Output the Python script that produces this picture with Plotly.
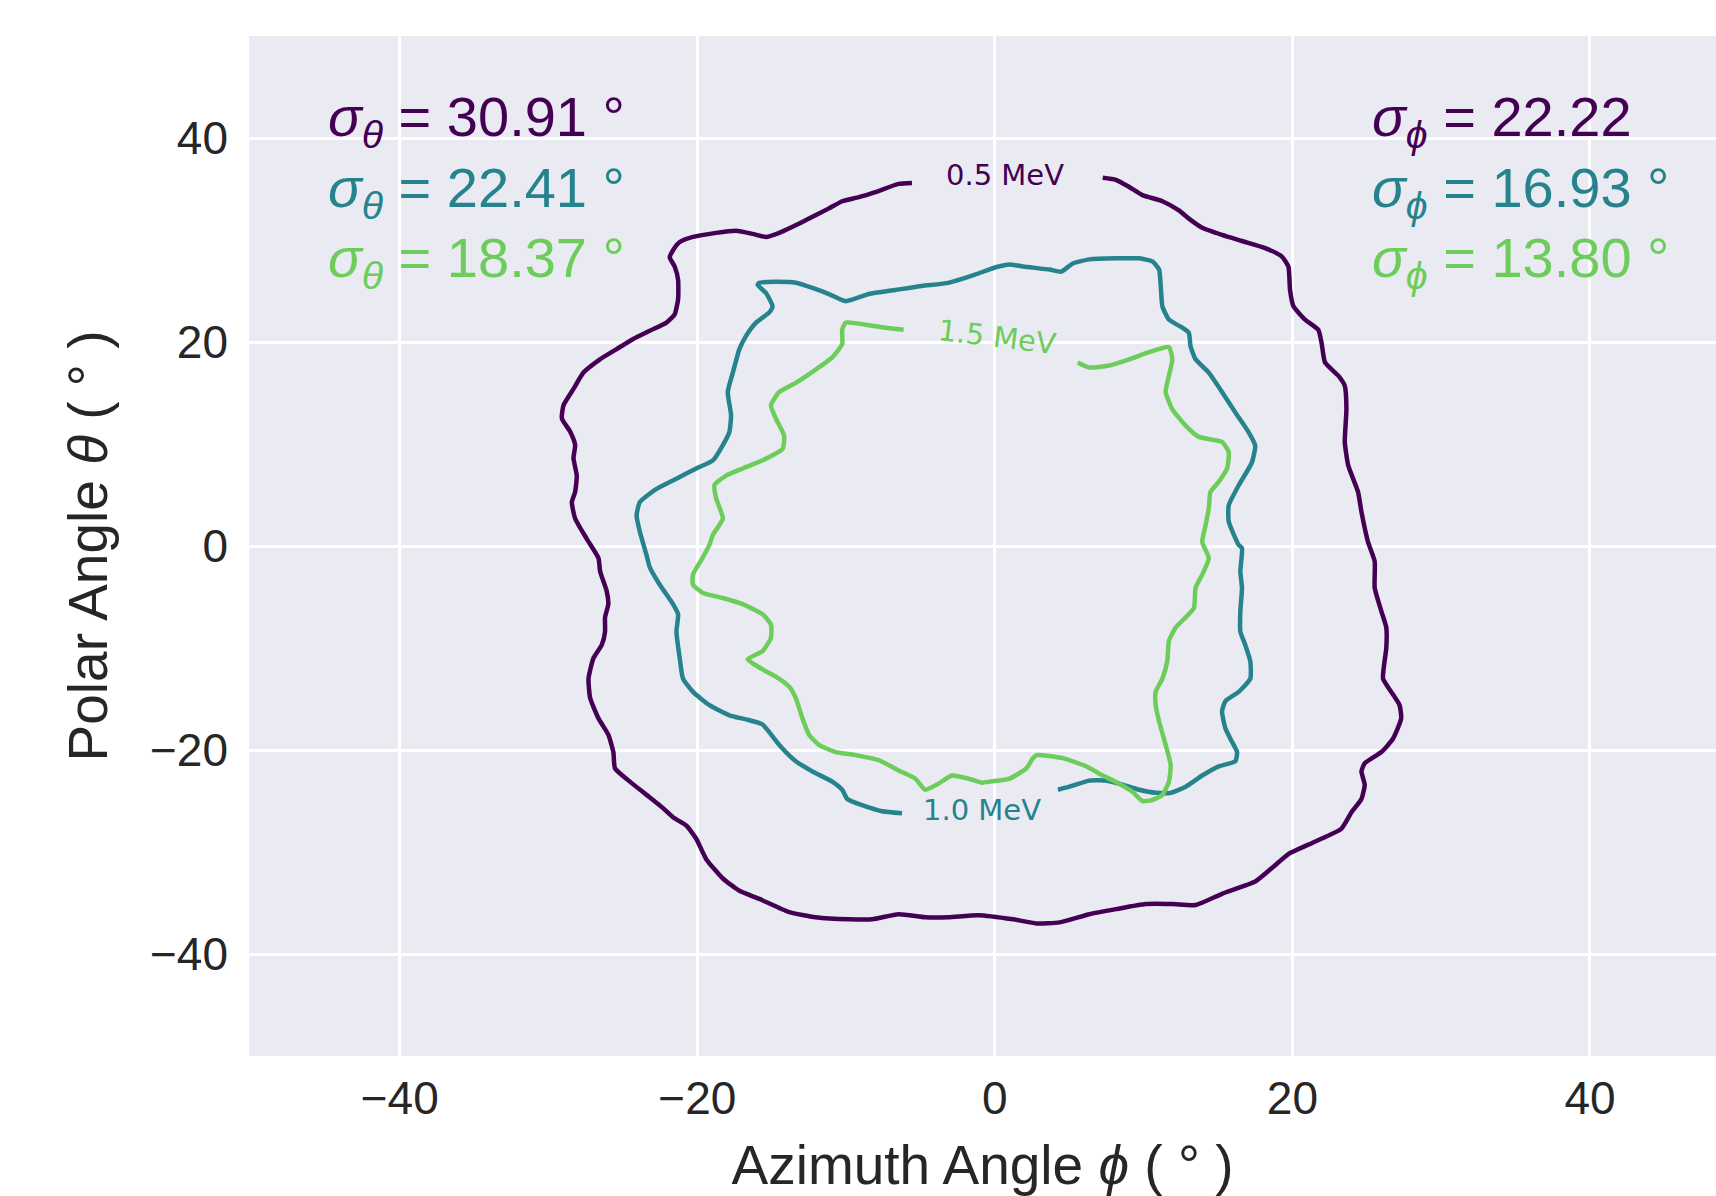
import plotly.graph_objects as go

# ---------------- data ----------------
energies = ["0.5 MeV", "1.0 MeV", "1.5 MeV"]
colors = ["#440154", "#26838e", "#6ccd5a"]

sigma_theta = [30.91, 22.41, 18.37]
sigma_phi = [22.22, 16.93, 13.80]
sigma_phi_unit = ["", " °", " °"]

xticks = [-40, -20, 0, 20, 40]
yticks = [-40, -20, 0, 20, 40]

# 0.5 MeV contour (gap at the top for the inline label)
phi_05 = [-5.57, -6.47, -8.03, -9.14, -10.26, -11.15, -12.49, -13.6, -14.49, -15.38,
          -16.28, -17.39, -18.73, -20.29, -21.18, -21.63, -21.85, -21.52, -21.29, -21.29,
          -21.52, -22.07, -23.19, -24.31, -25.42, -26.54, -27.65, -28.32, -28.99, -29.10,
          -28.54, -28.21, -28.32, -28.1, -28.21, -28.43, -28.21, -27.43, -26.64,
          -26.53, -26.09, -25.98, -26.2, -26.2, -26.42, -26.98, -27.31, -27.2, -26.64,
          -25.98, -25.64, -25.53, -24.53, -23.41, -22.3, -21.63, -20.74, -20.07, -19.4,
          -18.28, -17.17, -15.83, -13.82, -12.04, -9.81, -8.25, -6.47, -4.68, -3.12, -1.11,
          1.23, 2.79, 4.35, 6.35, 8.14, 10.14, 11.93, 13.49, 15.27, 17.5,
          18.6, 19.73, 21.5, 23.3, 23.97, 24.64, 24.86, 24.64, 24.86, 25.98,
          26.76, 27.31, 27.2, 26.64, 26.09, 26.31, 26.31, 25.98, 25.53, 25.53,
          25.08, 24.64, 24.41, 23.75, 23.52, 23.63, 23.52, 23.08, 22.19, 21.96,
          21.74, 20.85, 20.07, 19.84, 19.73, 19.28, 18.17, 16.6, 15.27, 13.94,
          13.04, 12.37, 11.26, 9.92, 9.03, 8.14, 7.25]
theta_05 = [35.6, 35.5, 34.7, 34.2, 33.8, 33.1, 32.1, 31.3, 30.7, 30.3,
            30.6, 30.9, 30.7, 30.3, 29.8, 29.0, 28.3, 27.4, 26.1, 24.2,
            22.7, 21.9, 21.1, 20.3, 19.3, 18.3, 17.0, 15.4, 13.8, 12.5,
            11.2, 9.9, 8.6, 6.9, 5.3, 4.3, 2.7, 0.7, -1.2,
            -2.5, -4.4, -5.7, -7.0, -8.4, -9.7, -11.0, -13.0, -14.9, -16.9,
            -18.5, -20.2, -21.8, -23.1, -24.4, -25.7, -26.6, -27.4, -28.7, -30.7,
            -32.6, -33.8, -34.6, -35.9, -36.4, -36.6, -36.6, -36.1, -36.4, -36.4, -36.2,
            -36.6, -37.0, -36.9, -36.1, -35.6, -35.1, -35.1, -35.2, -34.1, -32.9,
            -31.6, -30.2, -29.0, -27.7, -26.1, -24.8, -23.4, -22.1, -21.3, -20.2,
            -18.9, -16.9, -15.6, -14.3, -13.0, -10.0, -8.0, -6.4, -4.1, -1.5,
            0.4, 3.35, 5.3, 7.9, 10.2, 13.4, 15.7, 16.7, 18.0, 19.9,
            21.2, 22.2, 23.5, 25.1, 27.4, 28.4, 29.2, 29.9, 30.5, 31.2,
            32.1, 32.9, 33.8, 34.4, 35.2, 35.9, 36.1]

# 1.0 MeV contour (gap at the bottom)
phi_10 = [4.24, 5.24, 6.35, 7.47, 8.58, 9.7, 10.81, 11.82, 12.82, 13.94,
          15.05, 16.16, 16.28, 15.94, 15.5, 15.27, 15.5, 16.39, 17.17, 17.17,
          16.83, 16.5, 16.5, 16.61, 16.5, 16.61,
          16.39, 15.72, 15.72, 16.39, 17.28, 17.5, 17.06, 16.16, 15.27, 14.38,
          13.49, 13.15, 13.04, 12.6, 11.7, 11.26, 11.15, 11.04, 10.59, 9.7,
          8.14, 6.35, 5.24, 4.46, 3.68, 1.9, 1.0, 0.11,
          -1.34, -3.12, -4.91, -6.69, -8.47, -10.03, -11.15, -12.26, -13.38, -14.72,
          -15.83, -15.94, -15.38, -14.94, -15.16, -16.05, -16.72, -17.17, -17.61, -17.95,
          -17.73, -17.84, -18.28, -18.95, -20.07, -21.4, -22.74, -23.86, -24.08, -23.86,
          -23.41,
          -23.19, -22.52, -21.63, -21.29, -21.4, -21.18, -20.96, -20.29, -19.18, -17.84,
          -16.72, -15.61, -14.49, -13.38, -12.26, -10.93, -10.26, -9.92, -8.92, -7.58,
          -6.24]
theta_10 = [-23.9, -23.5, -23.0, -23.0, -23.4, -23.9, -24.2, -24.2, -23.6, -22.5,
            -21.6, -21.1, -20.2, -19.2, -17.9, -16.2, -15.2, -14.3, -13.0, -11.3,
            -9.7, -8.4, -6.4, -4.1, -2.5, -0.2,
            0.1, 2.4, 4.0, 5.95, 8.2, 9.85, 11.15, 13.1, 15.1, 17.0,
            18.3, 19.6, 20.9, 21.4, 22.2, 23.5, 25.5, 27.1, 27.9, 28.2,
            28.2, 28.1, 27.7, 26.9, 27.1, 27.4, 27.6, 27.35,
            26.6, 25.8, 25.5, 25.1, 24.7, 24.0, 24.7, 25.3, 25.8, 25.9,
            25.8, 25.6, 24.8, 23.5, 22.9, 21.9, 20.6, 19.3, 17.0, 15.1,
            12.8, 11.2, 9.9, 8.4, 7.6, 6.6, 5.6, 4.3, 3.0, 1.4,
            -0.9,
            -2.1, -3.8, -5.7, -6.7, -8.4, -11.0, -13.0, -14.3, -15.6, -16.6,
            -17.0, -17.5, -19.5, -21.1, -22.1, -23.1, -23.9, -24.8, -25.4, -26.0,
            -26.2]

# 1.5 MeV contour (gap at the top)
phi_15 = [5.57, 6.35, 7.69, 9.03, 10.37, 11.7, 11.93, 11.7, 11.48, 11.93,
          12.82, 13.71, 15.27, 15.72, 15.61, 15.05, 14.49, 14.38, 14.16, 13.94,
          14.38,
          13.94, 13.49, 13.38, 12.82, 12.15, 11.7, 11.59, 11.26, 10.81, 10.81,
          11.04, 11.48, 11.82, 11.7, 11.26, 10.59, 9.92, 9.25, 8.36, 7.25,
          6.13, 4.57, 2.79, 2.56, 2.12, 1.0, -0.33,
          -0.89, -1.78, -2.9, -3.79, -4.68, -5.35, -6.47, -7.8, -9.36, -10.7,
          -11.82, -12.49, -12.93, -13.38, -13.82, -14.72, -15.61, -16.61, -15.61, -15.05,
          -15.05, -15.61, -16.95, -18.28, -19.62, -20.29, -20.29, -19.62, -19.17,
          -18.95, -18.28, -18.73, -18.84, -18.06, -16.95, -15.61, -14.27, -14.16, -14.72,
          -15.05, -14.49, -13.38, -12.04, -10.93, -10.26, -10.26, -10.03, -8.7, -7.36,
          -6.13]
theta_15 = [18.0, 17.5, 17.7, 18.3, 19.0, 19.5, 18.3, 16.7, 15.1, 13.4,
            11.8, 10.7, 10.2, 9.2, 7.6, 6.3, 5.3, 3.7, 2.0, 0.4,
            -1.2,
            -2.8, -4.1, -6.1, -7.0, -8.0, -9.3, -11.3, -13.0, -14.3, -15.6,
            -17.2, -19.5, -21.5, -23.1, -24.4, -24.9, -25.0, -24.1, -23.3, -22.5,
            -21.6, -20.8, -20.5, -20.8, -21.8, -22.8, -23.1,
            -23.2, -22.8, -22.5, -23.3, -23.9, -22.8, -22.0, -21.0, -20.5, -20.2,
            -19.5, -18.5, -16.9, -14.9, -13.8, -12.8, -12.1, -11.1, -10.3, -9.0,
            -7.7, -6.7, -5.7, -5.1, -4.6, -3.8, -2.8, -1.1, 0.16,
            1.1, 2.7, 4.65, 6.0, 6.9, 7.6, 8.4, 9.5, 10.8, 12.5,
            13.8, 15.1, 16.0, 17.3, 18.5, 19.8, 21.2, 21.9, 21.7, 21.4,
            21.2]

# inline contour label positions (data coords) and rotation
label_phi = [0.67, -0.88, 0.15]
label_theta = [36.4, -25.9, 20.5]
label_angle = [0, 0, 7]

# ---------------- figure ----------------
FONT = "Liberation Sans, Arial, sans-serif"
LABEL_FONT = "DejaVu Sans, sans-serif"
TXT = "#262626"

fig = go.Figure()
for phi, theta, c in [(phi_05, theta_05, colors[0]),
                      (phi_10, theta_10, colors[1]),
                      (phi_15, theta_15, colors[2])]:
    n = min(len(phi), len(theta))
    fig.add_trace(go.Scatter(x=phi[:n], y=theta[:n], mode="lines",
                             line=dict(color=c, width=4.5, shape="spline", smoothing=0.5),
                             hoverinfo="skip", showlegend=False))

annotations = []
for i in range(3):
    annotations.append(dict(
        x=label_phi[i], y=label_theta[i], xref="x", yref="y",
        text=energies[i], showarrow=False, textangle=label_angle[i],
        font=dict(family=LABEL_FONT, size=29, color=colors[i]),
        xanchor="center", yanchor="middle"))

row_y = [41.7, 34.8, 27.9]
for i in range(3):
    annotations.append(dict(
        x=-44.95, y=row_y[i], xref="x", yref="y",
        text=f"<i>σ</i><sub><i>θ</i></sub> = {sigma_theta[i]:.2f} °",
        showarrow=False, xanchor="left", yanchor="middle",
        font=dict(family=FONT, size=56, color=colors[i])))
    annotations.append(dict(
        x=25.22, y=row_y[i], xref="x", yref="y",
        text=f"<i>σ</i><sub><i>ϕ</i></sub> = {sigma_phi[i]:.2f}{sigma_phi_unit[i]}",
        showarrow=False, xanchor="left", yanchor="middle",
        font=dict(family=FONT, size=56, color=colors[i])))

fig.update_layout(
    width=1716, height=1196,
    margin=dict(l=249, r=0, t=36, b=140, pad=0),
    paper_bgcolor="white", plot_bgcolor="#EAEAF2",
    font=dict(family=FONT, color=TXT),
    annotations=annotations,
    xaxis=dict(range=[-50.13, 48.47], tickvals=xticks, showgrid=True,
               gridcolor="white", gridwidth=2.5, zeroline=False, showline=False,
               ticks="", ticklabelstandoff=11,
               tickfont=dict(family=FONT, size=46, color=TXT),
               title=dict(text="Azimuth Angle <i>ϕ</i> ( ° )", standoff=24,
                          font=dict(family=FONT, size=55, color=TXT))),
    yaxis=dict(range=[-50, 50], tickvals=yticks, showgrid=True,
               gridcolor="white", gridwidth=2.5, zeroline=False, showline=False,
               ticks="", ticklabelstandoff=20,
               tickfont=dict(family=FONT, size=46, color=TXT),
               title=dict(text="Polar Angle <i>θ</i> ( ° )", standoff=24,
                          font=dict(family=FONT, size=55, color=TXT))),
)

fig.write_html("out.html")
